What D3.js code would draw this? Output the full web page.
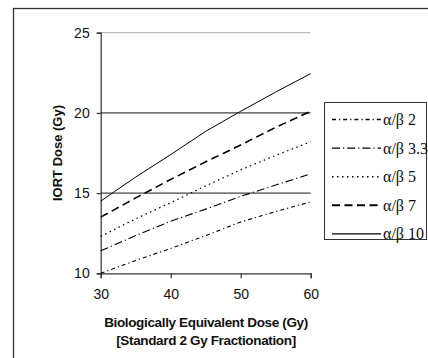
<!DOCTYPE html>
<html>
<head>
<meta charset="utf-8">
<script src="https://cdn.jsdelivr.net/npm/d3@7"></script>
<style>
  html, body { margin: 0; padding: 0; background: #fff; }
  svg { display: block; }
</style>
</head>
<body>
<svg id="chart" width="428" height="358"></svg>
<script>
// values
const doses = [30, 35, 40, 45, 50, 55, 60];
const ab2 = [10.0, 10.8, 11.55, 12.35, 13.2, 13.85, 14.45];
const ab33 = [11.4, 12.35, 13.25, 14.0, 14.8, 15.5, 16.2];
const ab5 = [12.3, 13.4, 14.4, 15.45, 16.45, 17.35, 18.2];
const ab7 = [13.5, 14.7, 15.85, 16.95, 18.0, 19.1, 20.1];
const ab10 = [14.5, 16.0, 17.4, 18.85, 20.1, 21.3, 22.45];
const seriesNames = ["\u03b1/\u03b2 2", "\u03b1/\u03b2 3.3", "\u03b1/\u03b2 5", "\u03b1/\u03b2 7", "\u03b1/\u03b2 10"];
const xTicks = [30, 40, 50, 60];
const yTicks = [10, 15, 20, 25];

const series = [ab2, ab33, ab5, ab7, ab10].map((v, i) => ({
    name: seriesNames[i],
    values: v.map((y, j) => ({x: doses[j], y: y}))
}));

const styles = [
    {dash: "4,3,1.2,3", w: 1.1},
    {dash: "8,3,1.2,3", w: 1.1},
    {dash: "1.5,3.5", w: 1.2},
    {dash: "8,4.5", w: 1.6},
    {dash: null, w: 1}
];

const svg = d3.select("#chart");
const sans = "'Liberation Sans', Arial, sans-serif";
const serif = "'Liberation Serif', 'Times New Roman', serif";

// outer frame
svg.append("rect")
    .attr("x", 13.5).attr("y", 8.5)
    .attr("width", 440).attr("height", 370)
    .attr("fill", "none").attr("stroke", "#333").attr("stroke-width", 1.3);

let x = d3.scaleLinear().domain([30, 60]).range([100.7, 310.7]);
let y = d3.scaleLinear().domain([10, 25]).range([273.3, 32.7]);

// gridlines
svg.append("g")
    .selectAll("line")
    .data(yTicks.filter(d => d > 10))
    .enter().append("line")
    .attr("x1", x(30)).attr("x2", x(60))
    .attr("y1", d => y(d)).attr("y2", d => y(d))
    .attr("stroke", d => d === 25 ? "#bdbdbd" : "#444")
    .attr("stroke-width", 1.2);

// axes
let xAxis = svg.append("g")
    .attr("transform", `translate(0,${y(10)})`)
    .call(d3.axisBottom(x).tickValues(xTicks).tickSizeOuter(0).tickSize(5).tickPadding(11));
let yAxis = svg.append("g")
    .attr("transform", `translate(${x(30)},0)`)
    .call(d3.axisLeft(y).tickValues(yTicks).tickSizeOuter(0).tickSize(4).tickPadding(7));

[xAxis, yAxis].forEach(a => {
    a.select(".domain").attr("stroke", "#333").attr("stroke-width", 1.2);
    a.selectAll(".tick line").attr("stroke", "#333").attr("stroke-width", 1.2);
    a.selectAll(".tick text")
        .attr("fill", "#111")
        .style("font-family", sans)
        .style("font-size", "14px");
});

// series lines
let line = d3.line().x(d => x(d.x)).y(d => y(d.y));
svg.append("g")
    .selectAll("path")
    .data(series)
    .enter().append("path")
    .attr("d", d => line(d.values))
    .attr("fill", "none")
    .attr("stroke", "#000")
    .attr("stroke-width", (d, i) => styles[i].w)
    .attr("stroke-dasharray", (d, i) => styles[i].dash);

// axis titles
svg.append("text")
    .attr("transform", `translate(61.5,153) rotate(-90)`)
    .attr("text-anchor", "middle")
    .style("font-family", sans).style("font-weight", "bold").style("font-size", "13px")
    .attr("fill", "#111")
    .text("IORT Dose (Gy)");

svg.append("text")
    .attr("x", 206).attr("y", 327)
    .attr("text-anchor", "middle")
    .style("font-family", sans).style("font-weight", "bold").style("font-size", "13.5px")
    .style("letter-spacing", "-0.35px")
    .attr("fill", "#111")
    .text("Biologically Equivalent Dose (Gy)");

svg.append("text")
    .attr("x", 206).attr("y", 345)
    .attr("text-anchor", "middle")
    .style("font-family", sans).style("font-weight", "bold").style("font-size", "13.5px")
    .style("letter-spacing", "-0.35px")
    .attr("fill", "#111")
    .text("[Standard 2 Gy Fractionation]");

// legend
let legend = svg.append("g");
legend.append("rect")
    .attr("x", 324.5).attr("y", 102.5)
    .attr("width", 102).attr("height", 137)
    .attr("fill", "#fff").attr("stroke", "#333").attr("stroke-width", 1);

let items = legend.selectAll("g.item")
    .data(series)
    .enter().append("g")
    .attr("class", "item")
    .attr("transform", (d, i) => `translate(0,${119.5 + i * 28.6})`);

items.append("line")
    .attr("x1", 332).attr("x2", 381)
    .attr("y1", 0).attr("y2", 0)
    .attr("stroke", "#000")
    .attr("stroke-width", (d, i) => styles[i].w + 0.3)
    .attr("stroke-dasharray", (d, i) => styles[i].dash);

items.append("text")
    .attr("x", 383).attr("y", 5.5)
    .style("font-family", serif).style("font-size", "16px")
    .attr("fill", "#111")
    .text(d => d.name);
</script>
</body>
</html>
